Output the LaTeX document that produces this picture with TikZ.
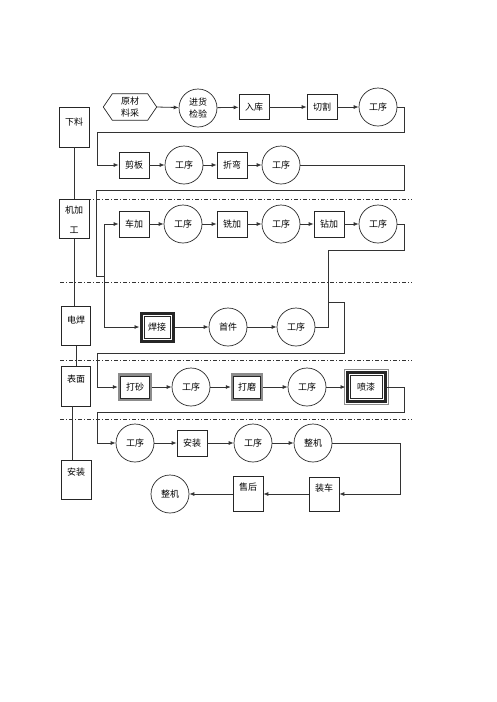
\documentclass[tikz,border=0pt]{standalone}
\usepackage{fontspec}
\setmainfont{Noto Sans CJK SC}
\usetikzlibrary{arrows.meta,calc}
\begin{document}
\begin{tikzpicture}[x=1pt,y=-1pt,
  font=\fontsize{9}{12}\selectfont,
  ln/.style={draw=black!80, line width=0.8pt},
  arr/.style={ln, -{Latex[length=5pt,width=4pt]}},
  box/.style={draw=black!85, line width=0.7pt, minimum width=30pt, minimum height=26pt, inner sep=0pt},
  tallbox/.style={box, minimum height=34pt},
  circ/.style={draw=black!85, line width=0.7pt, circle, minimum size=38pt, inner sep=0pt},
  side/.style={draw=black!85, line width=0.7pt, minimum width=30pt, minimum height=40pt, inner sep=0pt},
  lbl/.style={anchor=north, inner sep=0pt, align=center},
  heavy/.style={draw=black!85, line width=3pt, inner sep=0pt},
  grayb/.style={draw=black!45, line width=2.4pt, inner sep=0pt},
  inner/.style={draw=black!85, line width=0.6pt},
  dd/.style={draw=black!80, line width=0.6pt, dash pattern=on 4pt off 2pt on 1pt off 2pt}
]
\useasboundingbox (0,0) rectangle (496,702);

% dash-dot separators
\coordinate (d1a) at (60,199); \coordinate (d1b) at (412,199);
\coordinate (d2a) at (60,282); \coordinate (d2b) at (412,282);
\coordinate (d3a) at (60,360); \coordinate (d3b) at (412,360);
\coordinate (d4a) at (60,419); \coordinate (d4b) at (412,419);
\draw[dd] (d1a) -- (d1b);
\draw[dd] (d2a) -- (d2b);
\draw[dd] (d3a) -- (d3b);
\draw[dd] (d4a) -- (d4b);

% left column
\node[side, label={[lbl,yshift=-11pt]north:下料}] (xl) at (74,127) {};
\node[side, minimum height=39pt, label={[lbl,yshift=-7pt]north:机加\\[8pt]工}] (jjg) at (74,219) {};
\node[side, minimum width=29pt, minimum height=39pt, label={[lbl,yshift=-10pt]north:电焊}] (dh) at (76,326) {};
\node[side, minimum width=29pt, label={[lbl,yshift=-9pt]north:表面}] (bm) at (76,386) {};
\node[side, minimum height=39pt, label={[lbl,yshift=-8pt]north:安装}] (azl) at (76,480) {};

% row 1
\node[minimum width=53pt, minimum height=26pt, inner sep=0pt, align=center] (yc) at (130,107) {原材\\料采};
\draw[draw=black!85, line width=0.7pt] (yc.west) -- ($(yc.north west)+(9pt,0pt)$) -- ($(yc.north east)+(-9pt,0pt)$) -- (yc.east) -- ($(yc.south east)+(-9pt,0pt)$) -- ($(yc.south west)+(9pt,0pt)$) -- cycle;
\node[circ, align=center] (jh) at (198,108) {进货\\检验};
\node[box, minimum height=25pt] (rk) at (254,107) {入库};
\node[box, minimum height=25pt] (qg) at (322,107) {切割};
\node[circ] (gx1) at (378,107) {工序};

% row 2
\node[box] (jb) at (134,165) {剪板};
\node[circ] (gx2) at (184,165) {工序};
\node[box] (zw) at (232,165) {折弯};
\node[circ] (gx3) at (281,165) {工序};

% row 3
\node[box] (cj) at (134,224) {车加};
\node[circ] (gx4) at (183,224) {工序};
\node[box] (xj) at (232,224) {铣加};
\node[circ] (gx5) at (281,224) {工序};
\node[box] (zj) at (329,224) {钻加};
\node[circ] (gx6) at (378,224) {工序};

% row 4
\node[heavy, minimum width=32pt, minimum height=28pt] (hj) at (157,327) {焊接};
\draw[inner] ([xshift=4.3pt,yshift=-4.3pt]hj.north west) rectangle ([xshift=-4.3pt,yshift=4.3pt]hj.south east);
\node[circ] (sj) at (228,327) {首件};
\node[circ] (gx8) at (296,327) {工序};

% row 5
\node[grayb, minimum width=32pt, minimum height=25pt] (ds) at (135,387) {打砂};
\draw[inner] ([xshift=2.6pt,yshift=-2.6pt]ds.north west) rectangle ([xshift=-2.6pt,yshift=2.6pt]ds.south east);
\node[circ] (gx9) at (191,387) {工序};
\node[grayb, minimum width=30pt, minimum height=25pt] (dm) at (247,387) {打磨};
\draw[inner] ([xshift=2.6pt,yshift=-2.6pt]dm.north west) rectangle ([xshift=-2.6pt,yshift=2.6pt]dm.south east);
\node[circ] (gx10) at (307,387) {工序};
\node[heavy, minimum width=38pt, minimum height=29pt] (pq) at (366,387) {喷漆};
\draw[draw=black!45, line width=0.6pt] ([xshift=-1.6pt,yshift=1.6pt]pq.north west) rectangle ([xshift=1.6pt,yshift=-1.6pt]pq.south east);
\draw[inner] ([xshift=4.3pt,yshift=-4.3pt]pq.north west) rectangle ([xshift=-4.3pt,yshift=4.3pt]pq.south east);

% row 6
\node[circ] (gx11) at (135,443) {工序};
\node[box] (az) at (192,443) {安装};
\node[circ] (gx12) at (253,443) {工序};
\node[circ] (zj2) at (313,443) {整机};

% row 7
\node[tallbox, label={[lbl,yshift=-7pt]north:装车}] (zc) at (324,494) {};
\node[tallbox, minimum height=35pt, label={[lbl,yshift=-7pt]north:售后}] (sh) at (248,494) {};
\node[circ] (zj3) at (170,494) {整机};

% junction coordinates
\coordinate (j1) at (104,276);
\coordinate (j2) at (328,302);

% left column links
\draw[ln] (xl.south) -- (xl.south |- jjg.north);
\draw[ln] (jjg.south) -- (jjg.south |- dh.north);
\draw[ln] (dh.south) -- (dh.south |- bm.north);
\draw[ln] ($(bm.south)+(-4pt,0pt)$) -- ($(bm.south |- azl.north)+(-4pt,0pt)$);

% connectors
\draw[arr] (yc.east) -- (jh);
\draw[arr] (jh) -- (rk);
\draw[arr] (rk) -- (qg);
\draw[arr] (qg) -- (gx1);
\draw[arr] (gx1.east) -- (404,107) -- (404,132) -- (97,132) -- (97,165) -- (jb.west);

\draw[arr] (jb) -- (gx2);
\draw[arr] (gx2) -- (zw);
\draw[arr] (zw) -- (gx3);
\draw[ln] (gx3.east) -- (404,165) -- (404,190) -- (96,190) -- (96,276) -- (j1);

\draw[arr] (j1) -- (104,224) -- (cj.west);
\draw[arr] (cj) -- (gx4);
\draw[arr] (gx4) -- (xj);
\draw[arr] (xj) -- (gx5);
\draw[arr] (gx5) -- (zj);
\draw[arr] (zj) -- (gx6);

\draw[arr] (j1) -- (104,327) -- (hj.west);
\draw[arr] (hj) -- (sj);
\draw[arr] (sj) -- (gx8);
\draw[ln] (gx6.east) -- (404,224) -- (404,250) -- (328,250) -- (328,327) -- (gx8.east);
\draw[arr] (j2) -- (344,302) -- (344,353) -- (97,353) -- (97,387) -- (ds.west);

\draw[arr] (ds) -- (gx9);
\draw[arr] (gx9) -- (dm);
\draw[arr] (dm) -- (gx10);
\draw[arr] (gx10) -- (pq);
\draw[arr] (pq.east) -- (404,387) -- (404,412) -- (97,412) -- (97,443) -- (gx11.west);

\draw[arr] (gx11) -- (az);
\draw[arr] (az) -- (gx12);
\draw[arr] (gx12) -- (zj2);
\draw[arr] (zj2.east) -- (400,443) -- (400,494) -- (zc.east);

\draw[arr] (zc) -- (sh);
\draw[arr] (sh) -- (zj3);
\end{tikzpicture}
\end{document}
